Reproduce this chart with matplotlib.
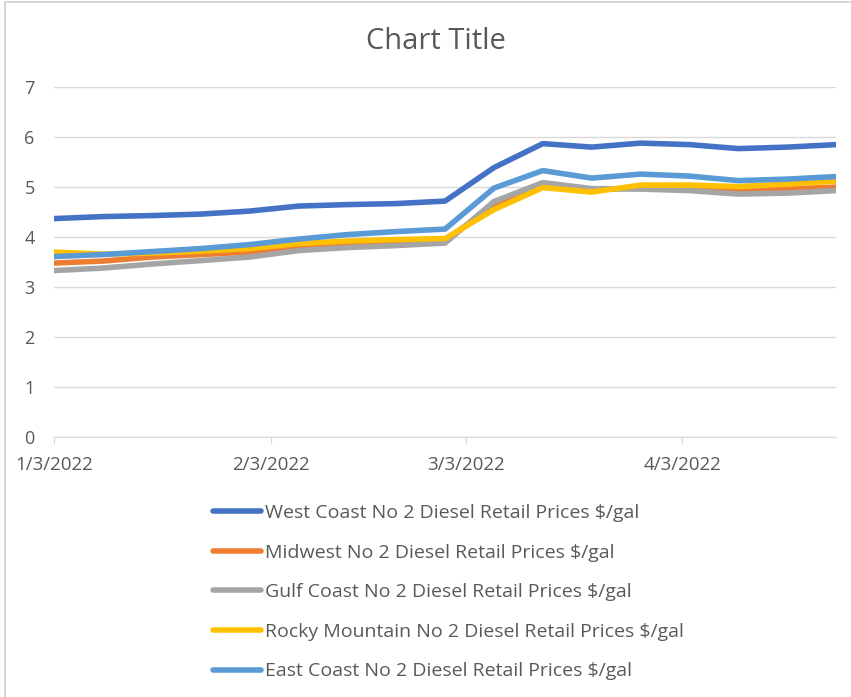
import matplotlib.pyplot as plt
import matplotlib.dates as mdates
import numpy as np
import datetime as dt

plt.rcParams['font.family'] = ['Open Sans', 'DejaVu Sans']

# weekly dates
fechas = [dt.date(2022, 1, 3) + dt.timedelta(days=7 * i) for i in range(17)]

west = [4.37, 4.41, 4.43, 4.46, 4.52, 4.62, 4.65, 4.67, 4.72,
        5.39, 5.87, 5.80, 5.88, 5.85, 5.77, 5.80, 5.85]
midwest = [3.48, 3.52, 3.60, 3.65, 3.70, 3.82, 3.87, 3.90, 3.94,
           4.62, 5.04, 4.95, 4.98, 4.97, 4.93, 4.96, 5.00]
gulf = [3.33, 3.38, 3.46, 3.53, 3.60, 3.73, 3.79, 3.83, 3.88,
        4.71, 5.09, 4.97, 4.96, 4.93, 4.86, 4.88, 4.93]
rocky = [3.70, 3.66, 3.68, 3.72, 3.77, 3.87, 3.92, 3.95, 3.97,
         4.55, 4.99, 4.90, 5.04, 5.04, 5.01, 5.06, 5.12]
east = [3.61, 3.65, 3.71, 3.77, 3.85, 3.96, 4.05, 4.11, 4.16,
        4.98, 5.33, 5.18, 5.26, 5.22, 5.13, 5.16, 5.21]

nombres = ["West Coast No 2 Diesel Retail Prices $/gal",
           "Midwest No 2 Diesel Retail Prices $/gal",
           "Gulf Coast No 2 Diesel Retail Prices $/gal",
           "Rocky Mountain No 2 Diesel Retail Prices $/gal",
           "East Coast No 2 Diesel Retail Prices $/gal"]
colores = ['#4472C4', '#ED7D31', '#A5A5A5', '#FFC000', '#5B9BD5']
series = [west, midwest, gulf, rocky, east]

gris = '#595959'

fig = plt.figure(figsize=(8.51, 6.97), dpi=100)
ax = fig.add_axes([0.0635, 0.373, 0.919, 0.502])

lineas = []
for s, c, nom in zip(series, colores, nombres):
    l, = ax.plot(fechas, s, color=c, lw=4, label=nom, solid_capstyle='round', solid_joinstyle='round')
    lineas.append(l)

ax.set_ylim(0, 7)
ax.set_yticks(np.arange(0, 8, 1))
ax.set_xlim(fechas[0], fechas[-1])
ax.set_xticks([dt.date(2022, m, 3) for m in (1, 2, 3, 4)])
ax.xaxis.set_major_formatter(plt.FuncFormatter(
    lambda v, p: (lambda d: f"{d.month}/{d.day}/{d.year}")(mdates.num2date(v))))

ax.grid(axis='y', color='#D9D9D9', lw=1)
ax.set_axisbelow(True)
for lado in ['top', 'right', 'left']:
    ax.spines[lado].set_visible(False)
ax.spines['bottom'].set_color('#D9D9D9')
ax.tick_params(axis='y', length=0, pad=14, labelsize=13, labelcolor=gris)
ax.tick_params(axis='x', length=5, color='#D9D9D9', pad=9, labelsize=13.5, labelcolor=gris)

fig.text(0.512, 0.940, "Chart Title", ha='center', va='center', fontsize=21, color=gris)

fig.legend(handles=lineas, loc='upper left', bbox_to_anchor=(0.241, 0.288), ncol=1,
           frameon=False, fontsize=14, labelcolor=gris, handlelength=2.5,
           handletextpad=0.2, labelspacing=1.11, borderaxespad=0)

# marco
fig.patches.append(plt.Rectangle((0.006, -0.01), 1.1, 1.007, transform=fig.transFigure,
                                 fill=False, edgecolor='#D0D0D0', lw=1.2))

fig.savefig('out.png', dpi=100, facecolor='white')
